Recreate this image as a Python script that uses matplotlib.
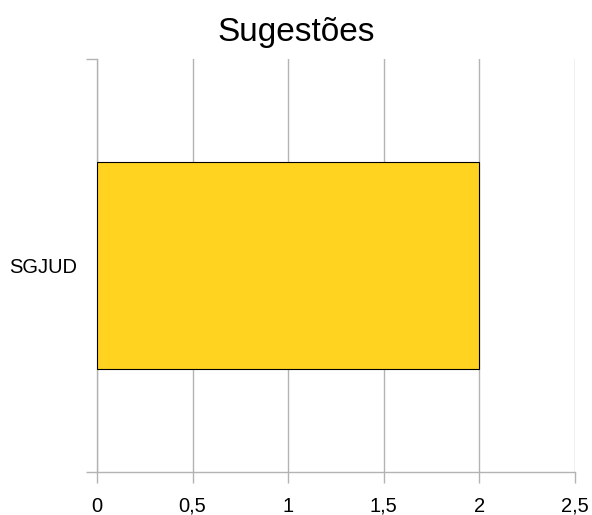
import matplotlib.pyplot as plt
from matplotlib.ticker import FuncFormatter

plt.rcParams['font.family'] = ['Liberation Sans', 'DejaVu Sans']

categorias = ['SGJUD']
valores = [2]
x_ticks = [0, 0.5, 1, 1.5, 2, 2.5]

fig = plt.figure(figsize=(5.92, 5.15), dpi=100)
ax = fig.add_axes([97 / 592, 43 / 515, 478 / 592, 413 / 515])

ax.barh(range(len(categorias)), valores, height=0.5, color='#ffd320',
        edgecolor='black', linewidth=0.8, zorder=3)

ax.set_xlim(0, 2.5)
ax.set_ylim(-0.5, 0.5)
ax.set_xticks(x_ticks)
ax.xaxis.set_major_formatter(FuncFormatter(lambda v, p: ('%g' % v).replace('.', ',')))
ax.grid(axis='x', color='#b3b3b3', linewidth=1, zorder=0)

# rotulo da categoria no meio, marcas nas bordas
ax.set_yticks([0])
ax.set_yticklabels(categorias)
ax.set_yticks([-0.5, 0.5], minor=True)
ax.tick_params(axis='y', which='major', length=0, pad=14, labelsize=14.5)
ax.tick_params(axis='y', which='minor', length=8, color='#b3b3b3', width=1)
ax.tick_params(axis='x', length=8, color='#b3b3b3', width=1, labelsize=14.5, pad=10)

for s in ['top', 'right']:
    ax.spines[s].set_visible(False)
for s in ['left', 'bottom']:
    ax.spines[s].set_color('#b3b3b3')
    ax.spines[s].set_linewidth(1)

fig.text(0.5, 1 - 33 / 515, 'Sugestões', ha='center', va='center', fontsize=24)

fig.savefig('out.png', dpi=100)
